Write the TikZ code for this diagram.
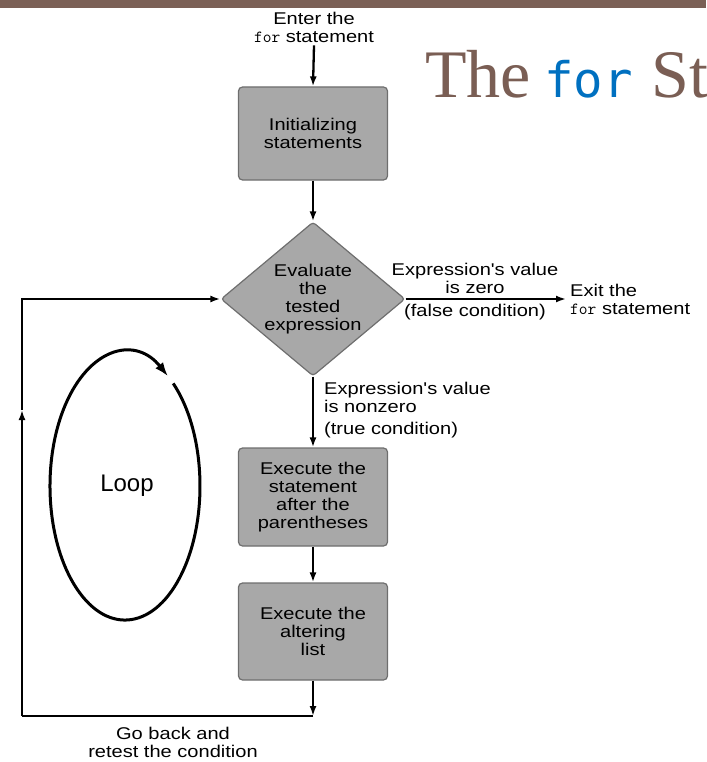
\documentclass[tikz,border=0pt]{standalone}
\usepackage{fontspec}
\setmainfont{Liberation Sans}
\newfontfamily\labfont{Liberation Sans}[FakeStretch=1.18]
\newfontfamily\titleserif{Liberation Serif}
\newfontfamily\titlemono{DejaVu Sans Mono}
\newcommand{\codefor}{{\ttfamily\fontsize{17}{18}\selectfont for}}
\usetikzlibrary{shapes.geometric,arrows.meta}
\definecolor{barbrown}{RGB}{123,96,86}
\definecolor{titlebrown}{RGB}{122,94,84}
\definecolor{titleblue}{RGB}{0,112,192}
\definecolor{boxgray}{RGB}{168,168,168}
\definecolor{boxedge}{RGB}{110,110,110}
\begin{document}
\begin{tikzpicture}[x=1pt,y=1pt,
  lab/.style={font={\labfont\fontsize{17}{18}\selectfont}, align=center, inner sep=0pt},
  stepbox/.style={lab, draw=boxedge, line width=1.2pt, fill=boxgray, rounded corners=4pt, minimum width=149pt},
  flowline/.style={line width=2.3pt},
  flow/.style={flowline, -{Latex[length=10pt,width=7pt]}},
  titlepart/.style={anchor=base west, inner sep=0pt}]
\path[use as bounding box, clip] (0,0) rectangle (706,-762);
\fill[barbrown] (0,0) rectangle (706,-8);
% title
\node[titlepart, text=titlebrown, font={\titleserif\fontsize{68}{68}\selectfont}] (t1) at (425,-98) {The};
\node[titlepart, text=titleblue, font={\titlemono\fontsize{49}{49}\selectfont}] (t2) at (544,-98) {for};
\node[titlepart, text=titlebrown, font={\titleserif\fontsize{68}{68}\selectfont}] (t3) at (651,-98) {St};
% flow
\node[lab] (enter) at (314,-27) {Enter the\\\codefor{} statement};
\node[stepbox, minimum height=93pt] (b1) at (313,-133.5) {Initializing\\statements};
\node[lab, diamond, draw=boxedge, line width=1.2pt, fill=boxgray, aspect=1.2, minimum width=184pt, minimum height=154pt, rounded corners=3pt] (d) at (313,-299) {Evaluate\\the\\tested\\expression};
\node[stepbox, minimum height=98pt] (b3) at (313,-497) {Execute the\\statement\\after the\\parentheses};
\node[stepbox, minimum height=97pt] (b4) at (313,-631.5) {Execute the\\altering\\list};
\draw[flow] (enter.south) ++(0,-3) coordinate (e0) -- (b1.north);
\draw[flow] (b1) -- (d);
\draw[flow] (d) -- (b3);
\draw[flow] (b3) -- (b4);
% exit
\coordinate (exitc) at (566,-299);
\draw[flow] (d.east) -- (exitc);
\node[lab] (zl) at (475,-278) {Expression's value\\is zero};
\node[lab] (fl) at (475,-312) {(false condition)};
\node[lab, anchor=west, align=left] (exitl) at (570,-299) {Exit the\\\codefor{} statement};
\node[lab, anchor=north west, align=left] (nz) at (324,-382) {Expression's value\\is nonzero\\[4pt](true condition)};
% loop back
\coordinate (c1) at (313,-716);
\coordinate (c2) at (22,-716);
\coordinate (c4) at (22,-410);
\coordinate (c3) at (22,-299);
\draw[flow] (b4) -- (c1);
\draw[flowline] (c1) -- (c2);
\draw[flow] (c2) -- (c4);
\draw[flow] (c4) -- (c3) -- (d.west);
\node[lab] (gb) at (173,-742) {Go back and\\retest the condition};
% loop ellipse
\draw[line width=3pt, -{Latex[length=14pt,width=10pt]}] (173.2,-383.4) arc[start angle=50, end angle=-305, x radius=75, y radius=134];
\node[font={\fontsize{24}{24}\selectfont}, inner sep=0pt] (loop) at (127,-486) {Loop};
\end{tikzpicture}
\end{document}
